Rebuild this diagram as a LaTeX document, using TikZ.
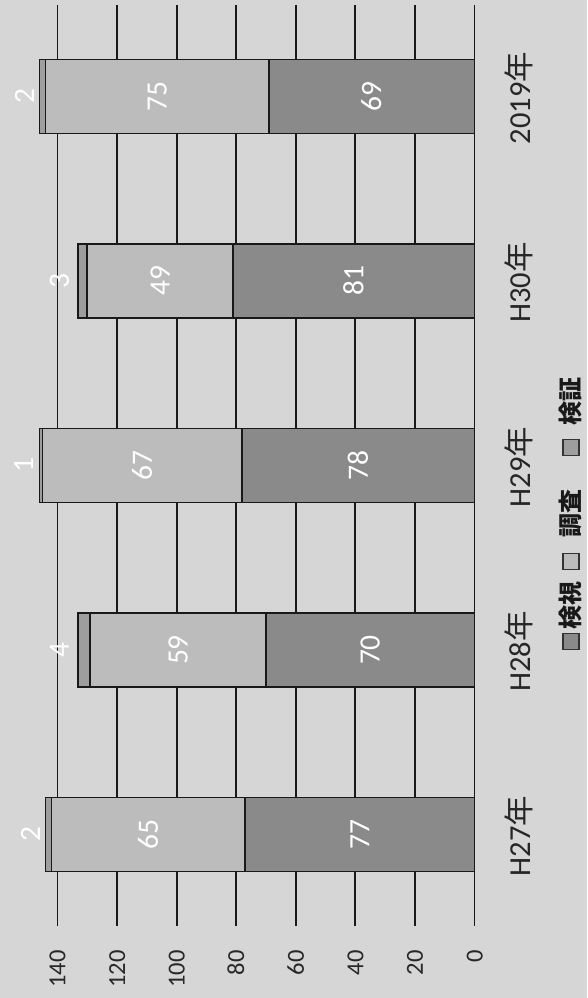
\documentclass[tikz,border=0pt]{standalone}
\usepackage{fontspec}
\setmainfont{Carlito}
\newfontfamily\cjk{Noto Sans CJK JP}
\definecolor{bg}{RGB}{214,214,214}
\definecolor{ckenshi}{RGB}{138,138,138}
\definecolor{cchosa}{RGB}{188,188,188}
\definecolor{ckensho}{RGB}{158,158,158}
\definecolor{gridc}{RGB}{25,25,25}
\definecolor{tickc}{RGB}{40,40,40}
\newcommand\ux{2.979}
\newcommand\zx{474.5}
\newcommand\drawbar[7]{% #1 id, #2 y centre, #3 kenshi, #4 chosa, #5 kensho, #6 category, #7 small-label offset
  \pgfmathsetmacro\bxa{\zx-#3*\ux}
  \pgfmathsetmacro\bxb{\bxa-#4*\ux}
  \pgfmathsetmacro\bxc{\bxb-#5*\ux}
  \filldraw[seg, fill=ckenshi] (\bxa,#2-37) rectangle (\zx,#2+37);
  \filldraw[seg, fill=cchosa] (\bxb,#2-37) rectangle (\bxa,#2+37);
  \filldraw[seg, fill=ckensho] (\bxc,#2-37) rectangle (\bxb,#2+37);
  \node[dlab] (#1a) at ({(\zx+\bxa)/2+9.5},#2) {#3};
  \node[dlab] (#1b) at ({(\bxa+\bxb)/2+9.5},#2) {#4};
  \node[dlab] (#1c) at ({\bxc-#7+9.5},#2) {#5};
  \node[catlab] (#1cat) at (530,#2+1.5) {#6};
}
\begin{document}
\begin{tikzpicture}[x=1pt,y=-1pt,
  seg/.style={draw=black!90, line width=1.6pt},
  gridline/.style={draw=gridc, line width=1.8pt},
  dlab/.style={rotate=90, anchor=base, inner sep=0pt, text=white,
    font=\fontsize{29.5}{30}\selectfont},
  catlab/.style={rotate=90, anchor=base, inner sep=0pt, text=black!85,
    font=\fontsize{30.5}{32}\selectfont},
  ticklab/.style={rotate=90, anchor=base east, inner sep=0pt, text=tickc,
    font=\fontsize{24.5}{26}\selectfont},
  legsq/.style={draw=black!80, line width=1.2pt, minimum size=16pt, inner sep=0pt},
  legtxt/.style={rotate=90, anchor=center, inner sep=0pt, text=black!90,
    font=\cjk\bfseries\fontsize{24}{26}\selectfont}]
\fill[bg] (0,0) rectangle (587,998);
\useasboundingbox (0,0) rectangle (587,998);
% gridlines and tick labels
\foreach \v in {0,20,...,140}{
  \pgfmathsetmacro\gx{\zx-\v*\ux}
  \draw[gridline] (\gx,5) -- (\gx,926);
  \node[ticklab] (t\v) at (\gx+8,950) {\v};
}
% bars
\drawbar{y19}{96.5}{69}{75}{2}{2019{\cjk 年}}{15}
\drawbar{h30}{281}{81}{49}{3}{H30{\cjk 年}}{19}
\drawbar{h29}{465.5}{78}{67}{1}{H29{\cjk 年}}{16}
\drawbar{h28}{650}{70}{59}{4}{H28{\cjk 年}}{19}
\drawbar{h27}{834.5}{77}{65}{2}{H27{\cjk 年}}{15}
% legend
\node[legsq, fill=ckenshi] (lq1) at (571,641.5) {};
\node[legtxt] (lt1) at (570,605) {検視};
\node[legsq, fill=cchosa] (lq2) at (571,561.5) {};
\node[legtxt] (lt2) at (570,513) {調査};
\node[legsq, fill=ckensho] (lq3) at (571,447.5) {};
\node[legtxt] (lt3) at (570,401.5) {検証};
\end{tikzpicture}
\end{document}
